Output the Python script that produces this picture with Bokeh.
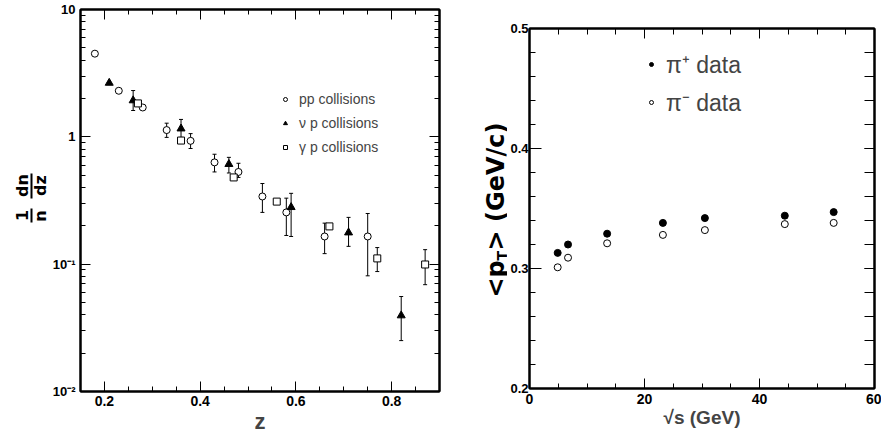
import math
import numpy as np
from bokeh.plotting import figure
from bokeh.models import (Range1d, LinearAxis, LogAxis, FixedTicker, SingleIntervalTicker,
                          Whisker, TeeHead, ColumnDataSource, Legend, LegendItem,
                          CustomJSTickFormatter)
from bokeh.core.properties import value
from bokeh.layouts import row
from bokeh.embed import file_html
from bokeh.resources import INLINE

NaN = np.nan

# ---------------- left panel: 1/n dn/dz versus z ----------------
pp_z = [0.18, 0.23, 0.28, 0.33, 0.38, 0.43, 0.48, 0.53, 0.58, 0.66, 0.75]
pp_val = [4.5, 2.3, 1.7, 1.13, 0.93, 0.63, 0.53, 0.34, 0.255, 0.165, 0.165]
pp_lo = [NaN, NaN, NaN, 0.99, 0.81, 0.53, 0.48, 0.255, 0.168, 0.121, 0.081]
pp_hi = [NaN, NaN, NaN, 1.28, 1.06, 0.73, 0.62, 0.43, 0.33, 0.21, 0.25]

nu_z = [0.21, 0.26, 0.36, 0.46, 0.59, 0.71, 0.82]
nu_val = [2.65, 1.93, 1.16, 0.61, 0.28, 0.177, 0.0395]
nu_lo = [NaN, 1.61, 0.99, 0.52, 0.165, 0.138, 0.0251]
nu_hi = [NaN, 2.31, 1.37, 0.69, 0.36, 0.233, 0.0557]

gam_z = [0.27, 0.36, 0.47, 0.56, 0.67, 0.77, 0.87]
gam_val = [1.83, 0.935, 0.48, 0.31, 0.198, 0.111, 0.0994]
gam_lo = [NaN, NaN, NaN, NaN, NaN, 0.0875, 0.069]
gam_hi = [NaN, NaN, NaN, NaN, NaN, 0.135, 0.13]

log_ticks = [0.01, 0.1, 1, 10]
log_tick_labels = ["10⁻²", "10⁻¹", "1", "10"]

# ---------------- right panel: <pT> versus sqrt(s) ----------------
sqrt_s = [4.9, 6.7, 13.5, 23.2, 30.5, 44.4, 52.9]
pt_pi_plus = [0.313, 0.320, 0.329, 0.338, 0.342, 0.344, 0.347]
pt_pi_minus = [0.301, 0.309, 0.321, 0.328, 0.332, 0.337, 0.338]

FONT = "Liberation Sans"
TITLE_FONT = "DejaVu Sans"


def style_axis(ax, label_size="13px", standoff=4, major_in=10, minor_in=5, show_labels=True):
    ax.axis_line_width = 2
    ax.axis_line_color = "black"
    ax.major_tick_in = major_in
    ax.major_tick_out = 0
    ax.minor_tick_in = minor_in
    ax.minor_tick_out = 0
    ax.major_tick_line_color = "black"
    ax.minor_tick_line_color = "black"
    ax.major_tick_line_width = 1
    ax.minor_tick_line_width = 1
    ax.major_label_text_font = FONT
    ax.major_label_text_font_style = "bold"
    ax.major_label_text_color = "black"
    if show_labels:
        ax.major_label_text_font_size = label_size
        ax.major_label_standoff = standoff
    else:
        # mirrored frame side: ticks only
        ax.formatter = CustomJSTickFormatter(code="return ''")
        ax.major_label_text_font_size = "1px"
        ax.major_label_standoff = 0


def title_strip(width, top, bottom):
    # blank strip whose data units equal page pixels inside rows top..bottom
    t = figure(width=width, height=441, x_range=Range1d(0, width), y_range=Range1d(bottom, top),
               output_backend="svg", toolbar_location=None,
               x_axis_location=None, y_axis_location=None,
               min_border_left=0, min_border_right=0,
               min_border_top=top, min_border_bottom=441 - bottom)
    t.grid.visible = False
    t.outline_line_color = None
    t.background_fill_color = "white"
    t.border_fill_color = "white"
    return t


def rot_text(t, x, y, text, size, align="center", baseline="middle"):
    t.text(x=[x], y=[y], text=[text], angle=math.pi / 2, text_align=align,
           text_baseline=baseline, text_font=value(TITLE_FONT), text_font_style="bold",
           text_font_size=value(size), text_color="black")


# ================= left y title: stacked fraction 1/n dn/dz =================
t1 = title_strip(49, 9, 391)
rot_text(t1, 21.5, 185, "dn", "16px")
rot_text(t1, 39.5, 185, "dz", "16px")
rot_text(t1, 21.5, 215, "1", "16px")
rot_text(t1, 39.5, 215.5, "n", "16px")
t1.segment(x0=[31, 31], y0=[173, 208], x1=[31, 31], y1=[198, 222],
           line_color="black", line_width=2)

# ================= left figure =================
p1 = figure(width=396, height=441, x_range=Range1d(0.15, 0.9), y_range=Range1d(0.01, 10),
            y_axis_type="log", output_backend="svg", toolbar_location=None,
            min_border_left=30, min_border_right=6, min_border_top=9, min_border_bottom=50)
p1.grid.visible = False
p1.outline_line_color = "black"
p1.outline_line_width = 2
p1.background_fill_color = "white"
p1.border_fill_color = "white"

x1_ticker = SingleIntervalTicker(interval=0.2, num_minor_ticks=4)
minor_log = [m * 10.0 ** e for e in (-2, -1, 0) for m in range(2, 10)]
y1_ticker = FixedTicker(ticks=log_ticks, minor_ticks=minor_log)

p1.xaxis.ticker = x1_ticker
p1.yaxis.ticker = y1_ticker
p1.yaxis.major_label_overrides = dict(zip(log_ticks, log_tick_labels))
style_axis(p1.xaxis[0], label_size="14px", standoff=4)
style_axis(p1.yaxis[0], label_size="13px", standoff=5)
p1.xaxis.axis_label = "z"
p1.xaxis.axis_label_text_font = FONT
p1.xaxis.axis_label_text_font_style = "bold"
p1.xaxis.axis_label_text_font_size = "22px"
p1.xaxis.axis_label_standoff = 0

top1 = LinearAxis(ticker=x1_ticker)
style_axis(top1, show_labels=False)
p1.add_layout(top1, "above")
right1 = LogAxis(ticker=y1_ticker)
style_axis(right1, show_labels=False)
p1.add_layout(right1, "right")

src_pp = ColumnDataSource(dict(z=pp_z, v=pp_val, lo=pp_lo, hi=pp_hi))
src_nu = ColumnDataSource(dict(z=nu_z, v=nu_val, lo=nu_lo, hi=nu_hi))
src_gam = ColumnDataSource(dict(z=gam_z, v=gam_val, lo=gam_lo, hi=gam_hi))

for src in (src_pp, src_nu, src_gam):
    w = Whisker(source=src, base="z", lower="lo", upper="hi", line_color="black", line_width=1,
                upper_head=TeeHead(size=4, line_color="black", line_width=1),
                lower_head=TeeHead(size=4, line_color="black", line_width=1),
                level="underlay")
    p1.add_layout(w)

r_pp = p1.scatter("z", "v", source=src_pp, marker="circle", size=7,
                  fill_color="white", line_color="black", line_width=1)
r_nu = p1.scatter("z", "v", source=src_nu, marker="triangle", size=8,
                  fill_color="black", line_color="black", line_width=1)
r_gam = p1.scatter("z", "v", source=src_gam, marker="square", size=7,
                   fill_color="white", line_color="black", line_width=1)

leg1 = Legend(items=[LegendItem(label="pp collisions", renderers=[r_pp]),
                     LegendItem(label="ν p collisions", renderers=[r_nu]),
                     LegendItem(label="γ p collisions", renderers=[r_gam])],
              location=(200, 234), border_line_color=None, background_fill_alpha=0,
              padding=0, margin=0, glyph_width=10, glyph_height=20, label_height=20,
              spacing=4, label_standoff=9, label_text_font=FONT, label_text_font_size="14px")
p1.add_layout(leg1)

# ================= right y title: <pT> (GeV/c) =================
t2 = title_strip(62, 28, 388)
rot_text(t2, 50, 297, "<p", "24px", align="left", baseline="alphabetic")
rot_text(t2, 56, 260, "T", "14px", align="left", baseline="alphabetic")
rot_text(t2, 50, 250, "> (GeV/c)", "24px", align="left", baseline="alphabetic")

# ================= right figure =================
p2 = figure(width=374, height=441, x_range=Range1d(0, 60), y_range=Range1d(0.2, 0.5),
            output_backend="svg", toolbar_location=None,
            min_border_left=19, min_border_right=7, min_border_top=28, min_border_bottom=53)
p2.grid.visible = False
p2.outline_line_color = "black"
p2.outline_line_width = 2
p2.background_fill_color = "white"
p2.border_fill_color = "white"

x2_ticker = SingleIntervalTicker(interval=20, num_minor_ticks=4)
y2_ticker = SingleIntervalTicker(interval=0.1, num_minor_ticks=5)
p2.xaxis.ticker = x2_ticker
p2.yaxis.ticker = y2_ticker
style_axis(p2.xaxis[0], label_size="14px", standoff=5, major_in=10, minor_in=5)
style_axis(p2.yaxis[0], label_size="13px", standoff=1, major_in=12, minor_in=6)
p2.xaxis.axis_label = "√s (GeV)"
p2.xaxis.axis_label_text_font = FONT
p2.xaxis.axis_label_text_font_style = "bold"
p2.xaxis.axis_label_text_font_size = "19px"
p2.xaxis.axis_label_standoff = 0

top2 = LinearAxis(ticker=x2_ticker)
style_axis(top2, show_labels=False, major_in=10, minor_in=6)
p2.add_layout(top2, "above")
right2 = LinearAxis(ticker=y2_ticker)
style_axis(right2, show_labels=False, major_in=10, minor_in=10)
p2.add_layout(right2, "right")

src_pt = ColumnDataSource(dict(s=sqrt_s, plus=pt_pi_plus, minus=pt_pi_minus))
r_plus = p2.scatter("s", "plus", source=src_pt, marker="circle", size=7,
                    fill_color="black", line_color="black")
r_minus = p2.scatter("s", "minus", source=src_pt, marker="circle", size=7,
                     fill_color="white", line_color="black", line_width=1)

leg2 = Legend(items=[LegendItem(label="π⁺ data", renderers=[r_plus]),
                     LegendItem(label="π⁻ data", renderers=[r_minus])],
              location=(117, 270), border_line_color=None, background_fill_alpha=0,
              padding=0, margin=0, glyph_width=10, glyph_height=30, label_height=30,
              spacing=6, label_standoff=10, label_text_font=FONT, label_text_font_size="23px")
p2.add_layout(leg2)

layout = row(row(t1, p1), row(t2, p2))
open("out.html", "w").write(file_html(layout, INLINE))
